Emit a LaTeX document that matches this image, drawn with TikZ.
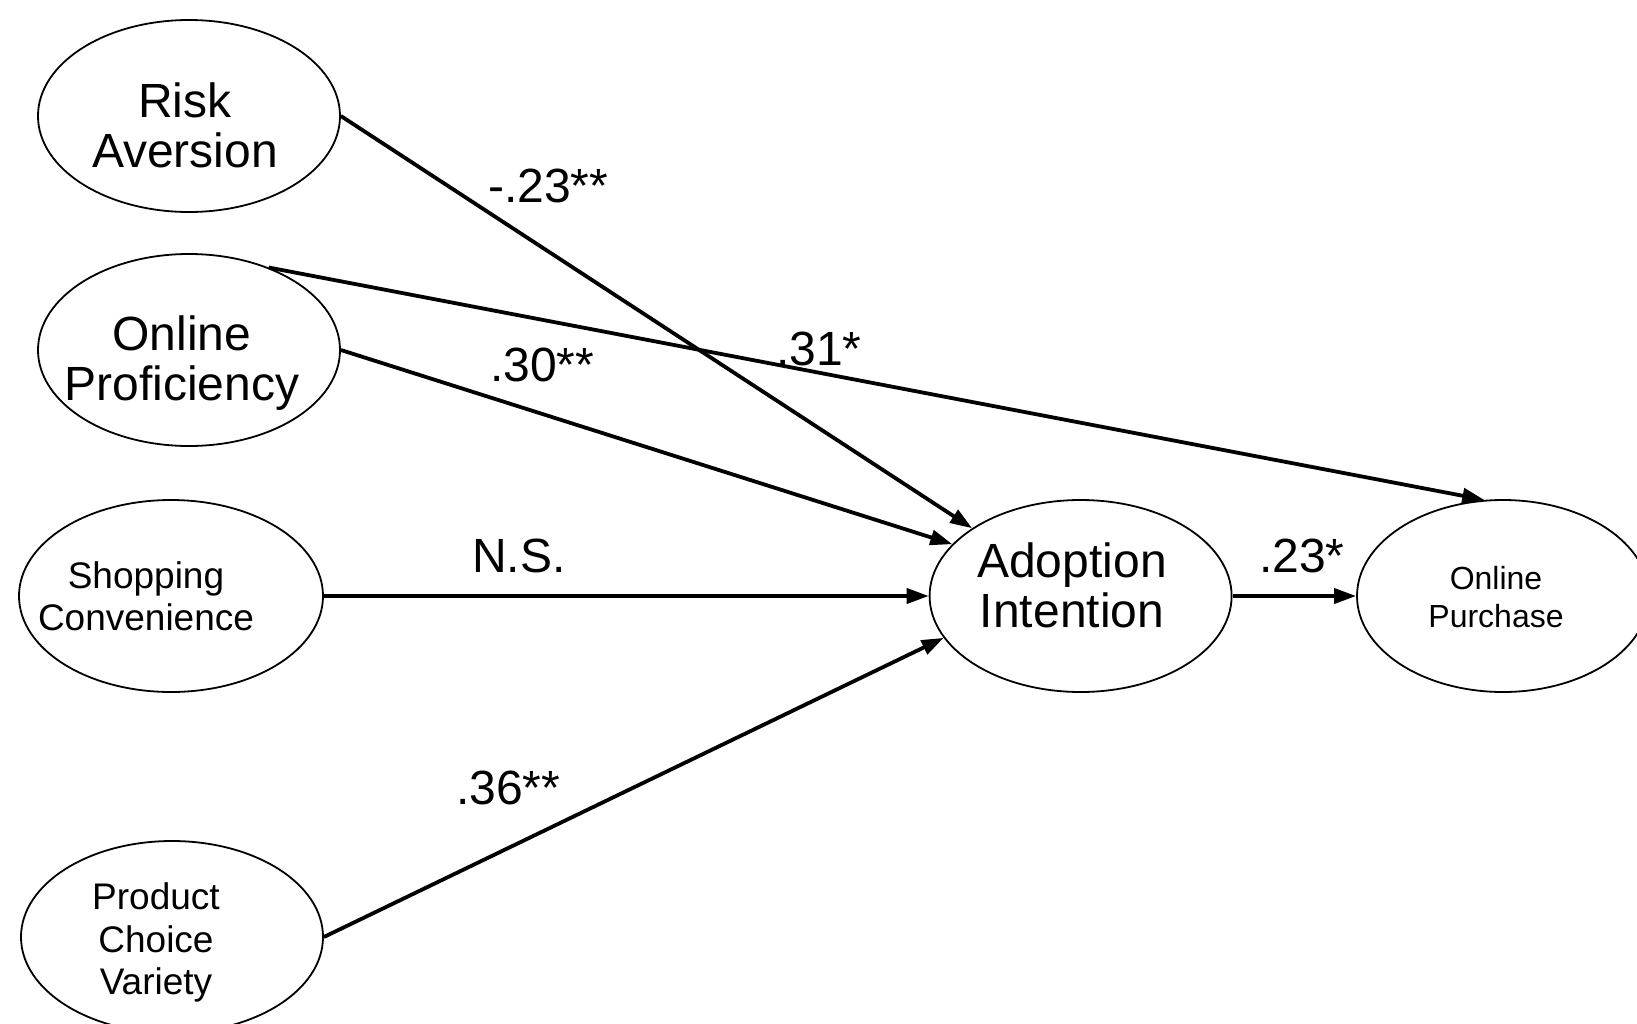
\documentclass[tikz,border=0pt]{standalone}
\usepackage{fontspec}
\setmainfont{Liberation Sans}
\usetikzlibrary{arrows.meta,shapes.geometric}
\begin{document}
\begin{tikzpicture}[x=1pt,y=-1pt,
  latent/.style={draw, ellipse, line width=1.8pt, inner sep=0pt, minimum height=192pt},
  txtbig/.style={font=\fontsize{48}{50}\selectfont, align=center, inner sep=0pt, anchor=north},
  txtsmall/.style={font=\fontsize{37}{42.5}\selectfont, align=center, inner sep=0pt, anchor=north},
  txtpur/.style={font=\fontsize{32}{38}\selectfont, align=center, inner sep=0pt, anchor=north},
  coef/.style={font=\fontsize{48}{50}\selectfont, inner sep=0pt, anchor=base west},
  effect/.style={line width=3.8pt, -{Triangle[length=22pt,width=15pt]}}
]
\useasboundingbox[fill=white] (0,0) rectangle (1637,1023);
% latent variables
\node[latent, minimum width=302pt] (risk)  at (189,116) {};
\node[latent, minimum width=302pt] (op)    at (189,350) {};
\node[latent, minimum width=304pt] (shop)  at (171,596) {};
\node[latent, minimum width=302pt] (prod)  at (172,937) {};
\node[latent, minimum width=302pt] (adopt) at (1080.6,596) {};
\node[latent, minimum width=292pt] (purch) at (1503,596) {};
% texts
\node[txtbig]   (risk-t)  at (185,82.6)  {Risk\\Aversion};
\node[txtbig]   (op-t)    at (182,316)   {Online\\Proficiency};
\node[txtsmall] (shop-t)  at (146,561)   {Shopping\\Convenience};
\node[txtsmall] (prod-t)  at (156,882.5) {Product\\Choice\\Variety};
\node[txtbig]   (adopt-t) at (1072,542.6) {Adoption\\Intention};
\node[txtpur]   (purch-t) at (1496,565.7) {Online\\Purchase};
% paths
\draw[effect] (risk.east) -- (adopt.148);
\draw[effect] (op.east) -- (adopt.158);
\draw[effect] (op.46) -- (purch.101);
\draw[effect] (shop.east) -- (adopt.west);
\draw[effect] (prod.east) -- (adopt.197);
\draw[effect] (adopt.east) -- (purch.west);
% coefficients
\node[coef] (c1) at (488,202)  {-.23**};
\node[coef] (c2) at (490,381)  {.30**};
\node[coef] (c3) at (776,365)  {.31*};
\node[coef] (c4) at (472,572)  {N.S.};
\node[coef] (c5) at (456,804)  {.36**};
\node[coef] (c6) at (1259,572) {.23*};
\end{tikzpicture}
\end{document}
